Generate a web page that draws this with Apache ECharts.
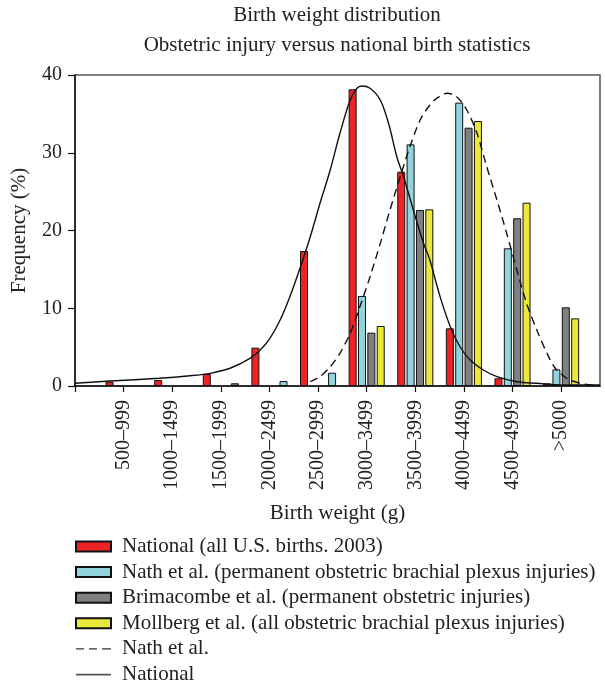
<!DOCTYPE html>
<html>
<head>
<meta charset="utf-8">
<script src="https://cdn.jsdelivr.net/npm/echarts@6/dist/echarts.min.js"></script>
<style>html,body{margin:0;padding:0;background:#fff}#c{width:605px;height:689px}</style>
</head>
<body>
<div id="c"></div>
<script>
// ---- data ----
const categories = ['500–999','1000–1499','1500–1999','2000–2499','2500–2999','3000–3499','3500–3999','4000–4499','4500–4999','>5000'];
const yTicks = [0, 10, 20, 30, 40];
const national = [0.55, 0.77, 1.54, 4.93, 17.36, 38.16, 27.56, 7.42, 0.99, 0.34];
const nath     = [null, null, null, null, null, 11.58, 31.08, 36.44, 17.71, 2.14];
const brim     = [null, null, null, null, null, 6.86, 22.64, 33.22, 21.57, 10.12];
const moll     = [null, null, null, null, null, 7.72, 22.72, 34.08, 23.58, 8.70];
// small bars that sit in the last slot of their group in the reference
const nathShifted = [null, null, null, 0.64, 1.71, null, null, null, null, null];
const brimShifted = [null, null, 0.35, null, null, null, null, null, null, null];
// fitted curves (x in category-position units, y in %)
const nationalCurveX = [0, 0.72, 1.73, 2.37, 2.78, 3.19, 3.60, 3.81, 4.01, 4.22, 4.42, 4.63, 4.84, 5.04, 5.25, 5.45, 5.66, 5.80, 5.90, 6.07, 6.28, 6.45, 6.62, 6.76, 6.96, 7.17, 7.30, 7.51, 7.72, 7.92, 8.13, 8.40, 8.68, 9.09, 9.50, 10.05, 10.80];
const nationalCurveY = [0.35, 0.64, 0.99, 1.32, 1.63, 2.28, 3.56, 4.63, 6.13, 8.49, 11.49, 15.18, 19.20, 23.50, 27.78, 32.50, 36.78, 38.29, 38.59, 38.29, 36.78, 33.79, 29.49, 26.92, 22.64, 18.35, 16.21, 11.49, 7.63, 5.05, 3.34, 2.06, 1.20, 0.55, 0.35, 0.13, 0.13];
const nathCurveX = [4.84, 5.04, 5.25, 5.45, 5.66, 5.86, 6.07, 6.28, 6.48, 6.69, 6.89, 7.10, 7.30, 7.44, 7.65, 7.85, 8.06, 8.27, 8.47, 8.68, 8.88, 9.09, 9.29, 9.50, 9.71, 9.88, 10.12, 10.39, 10.66];
const nathCurveY = [0.55, 1.20, 2.48, 4.21, 6.78, 10.20, 14.06, 18.35, 22.64, 26.92, 30.78, 34.21, 36.14, 37.00, 37.65, 37.21, 35.50, 32.50, 28.21, 23.92, 19.64, 14.92, 10.64, 7.20, 4.21, 2.28, 0.99, 0.35, 0.13];

const FONT = 'Liberation Serif';
const FS = 21;
const FS_TICK = 20;
const toPairs = arr => arr.map((v, i) => v == null ? null : [i + 1, v]).filter(p => p);
const zipXY = (xs, ys) => xs.map((x, i) => [x, ys[i]]);

const barBase = { type: 'bar', barWidth: 8, barGap: '17%' };
const names = ['National (all U.S. births. 2003)', 'Nath et al. (permanent obstetric brachial plexus injuries)', 'Brimacombe et al. (permanent obstetric injuries)', 'Mollberg et al. (all obstetric brachial plexus injuries)'];
const colors = ['#ee2326', '#91d4de', '#808080', '#ece83a'];
const barStyle = c => ({ color: c, borderColor: '#111', borderWidth: 1 });

// legend icons for the two curves (thin line in the middle of a 35x10 box)
const dashIcon = 'path://M0,0L0.01,0L0,0Z M0,10L0.01,10L0,10Z M0,4.3h8v1.4h-8Z M13,4.3h8v1.4h-8Z M26,4.3h9v1.4h-9Z';
const solidIcon = 'path://M0,0L0.01,0L0,0Z M0,10L0.01,10L0,10Z M0,4.3h35v1.6h-35Z';

const chart = echarts.init(document.getElementById('c'), null, { renderer: 'canvas' });
chart.setOption({
  animation: false,
  backgroundColor: '#fff',
  graphic: [
    { type: 'text', x: 337, y: 15, style: { text: 'Birth weight distribution', font: FS + 'px "' + FONT + '"', fill: '#222', textAlign: 'center', textVerticalAlign: 'middle' } },
    { type: 'text', x: 337, y: 45, style: { text: 'Obstetric injury versus national birth statistics', font: FS + 'px "' + FONT + '"', fill: '#222', textAlign: 'center', textVerticalAlign: 'middle' } }
  ],
  grid: { left: 75, right: 5, top: 75, bottom: 303, show: true, borderColor: '#555', borderWidth: 1.5, outerBoundsMode: 'none' },
  legend: {
    orient: 'vertical', left: 75, top: 536, height: 153, padding: 0,
    itemWidth: 35, itemHeight: 10, itemGap: 4.6,
    textStyle: { fontFamily: FONT, fontSize: FS, color: '#222', padding: [0, 0, 0, 6] },
    data: [
      { name: names[0], icon: 'rect' }, { name: names[1], icon: 'rect' }, { name: names[2], icon: 'rect' }, { name: names[3], icon: 'rect' },
      { name: 'Nath et al.', icon: dashIcon, itemStyle: { color: '#333' } },
      { name: 'National', icon: solidIcon, itemStyle: { color: '#555' } }
    ]
  },
  xAxis: {
    type: 'value', min: 0, max: 10.8,
    name: 'Birth weight (g)', nameLocation: 'middle', nameGap: 117,
    nameTextStyle: { fontFamily: FONT, fontSize: FS, color: '#222' },
    axisLine: { show: true, lineStyle: { color: '#111', width: 1.5 } },
    axisTick: { show: true, length: 6, customValues: [0,1,2,3,4,5,6,7,8,9,10], lineStyle: { color: '#111', width: 1.2 } },
    axisLabel: {
      customValues: categories.map((c, i) => i + 1),
      formatter: v => categories[Math.round(v) - 1] || '',
      rotate: 90, margin: 14, fontFamily: FONT, fontSize: FS_TICK, color: '#222'
    },
    splitLine: { show: false }
  },
  yAxis: {
    type: 'value', min: yTicks[0], max: yTicks[yTicks.length - 1], interval: 10,
    name: 'Frequency (%)', nameLocation: 'middle', nameGap: 45,
    nameTextStyle: { fontFamily: FONT, fontSize: FS, color: '#222' },
    axisLine: { show: true, lineStyle: { color: '#111', width: 1.5 } },
    axisTick: { show: true, length: 7, lineStyle: { color: '#111', width: 1.2 } },
    axisLabel: { margin: 13, fontFamily: FONT, fontSize: FS_TICK, color: '#222' },
    splitLine: { show: false }
  },
  series: [
    Object.assign({}, barBase, { name: names[0], data: toPairs(national), itemStyle: barStyle(colors[0]) }),
    Object.assign({}, barBase, { name: names[1], data: toPairs(nath), itemStyle: barStyle(colors[1]) }),
    Object.assign({}, barBase, { name: names[2], data: toPairs(brim), itemStyle: barStyle(colors[2]) }),
    Object.assign({}, barBase, { name: names[3], stack: 'last', data: toPairs(moll), itemStyle: barStyle(colors[3]) }),
    Object.assign({}, barBase, { name: 'nath-shift', stack: 'last', data: toPairs(nathShifted), itemStyle: barStyle(colors[1]) }),
    Object.assign({}, barBase, { name: 'brim-shift', stack: 'last', data: toPairs(brimShifted), itemStyle: barStyle(colors[2]) }),
    { name: 'Nath et al.', type: 'line', data: zipXY(nathCurveX, nathCurveY), smooth: 0.3, symbol: 'none', z: 5,
      itemStyle: { color: '#333' }, lineStyle: { color: '#111', width: 1.4, type: [8, 5] } },
    { name: 'National', type: 'line', data: zipXY(nationalCurveX, nationalCurveY), smooth: 0.3, symbol: 'none', z: 5,
      itemStyle: { color: '#555' }, lineStyle: { color: '#111', width: 1.4 } }
  ]
});
</script>
</body>
</html>
